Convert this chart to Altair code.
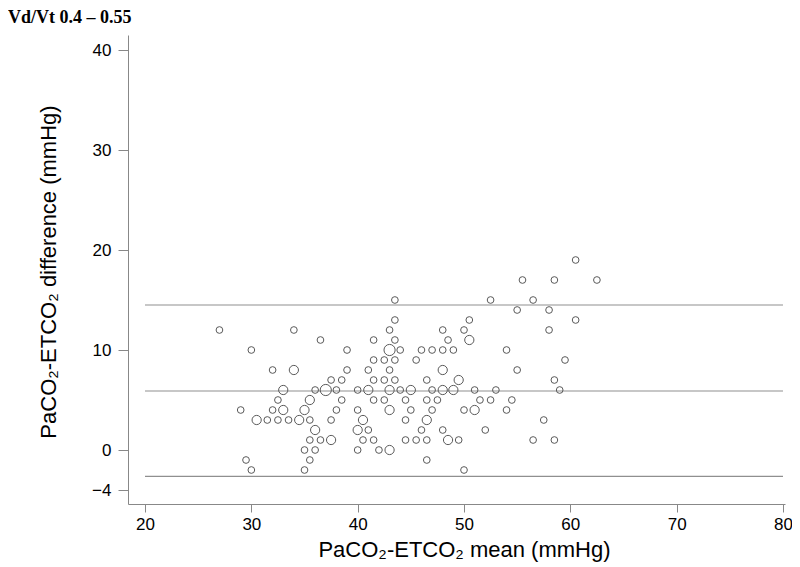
import altair as alt
import pandas as pd

# Bland-Altman data: mean (x), difference (y), number of coincident observations (w)
mean_vals = [27, 34, 30, 32, 34, 33, 32.5, 29, 32, 33, 30.5, 31.5, 32.5, 33.5, 34.5, 35, 29.5, 30, 35, 35,
             43.5, 43.5, 50.5, 43, 48, 50, 36.5, 41.5, 43.5, 48.5, 50.5,
             39, 43, 44, 46, 47, 48, 49,
             41.5, 42.5, 43.5, 45.5,
             39, 41, 43, 48,
             37.5, 38.5, 41.5, 42.5, 43.5, 46.5, 49.5,
             36, 37, 38, 40, 41, 43, 44, 45, 47, 48, 49, 51,
             35.5, 38.5, 41.5, 42.5, 44.5, 46.5, 47.5, 51.5,
             38, 40, 43, 45, 47, 50, 51,
             35.5, 37.5, 40.5, 44.5, 46.5,
             36, 40, 41, 46, 48,
             35.5, 36.5, 37.5, 40.5, 41.5, 44.5, 45.5, 46.5, 48.5, 49.5,
             36, 40, 42, 43,
             35.5, 46.5,
             50,
             60.5, 55.5, 58.5, 62.5, 52.5, 56.5, 55, 58, 60.5, 58, 54, 59.5, 55, 58.5, 59, 53,
             52.5, 54.5, 54, 57.5, 52, 56.5, 58.5]
diff_vals = [12, 12, 10, 8, 8, 6, 5, 4, 4, 4, 3, 3, 3, 3, 3, 4, -1, -2, 0, -2,
             15, 13, 13, 12, 12, 12, 11, 11, 11, 11, 11,
             10, 10, 10, 10, 10, 10, 10,
             9, 9, 9, 9,
             8, 8, 8, 8,
             7, 7, 7, 7, 7, 7, 7,
             6, 6, 6, 6, 6, 6, 6, 6, 6, 6, 6, 6,
             5, 5, 5, 5, 5, 5, 5, 5,
             4, 4, 4, 4, 4, 4, 4,
             3, 3, 3, 3, 3,
             2, 2, 2, 2, 2,
             1, 1, 1, 1, 1, 1, 1, 1, 1, 1,
             0, 0, 0, 0,
             -1, -1,
             -2,
             19, 17, 17, 17, 15, 15, 14, 14, 13, 12, 10, 9, 8, 7, 6, 6,
             5, 5, 4, 3, 2, 1, 1]
weights = [1, 1, 1, 1, 2, 2, 1, 1, 1, 2, 2, 1, 1, 1, 2, 2, 1, 1, 1, 1,
           1, 1, 1, 1, 1, 1, 1, 1, 1, 1, 2,
           1, 3, 1, 1, 1, 1, 1,
           1, 1, 1, 1,
           1, 1, 1, 2,
           1, 1, 1, 1, 1, 1, 2,
           1, 3, 1, 1, 2, 2, 1, 2, 1, 2, 2, 1,
           2, 1, 1, 1, 1, 1, 1, 1,
           1, 1, 2, 1, 1, 1, 2,
           1, 1, 2, 1, 2,
           2, 2, 1, 1, 1,
           1, 1, 2, 1, 1, 1, 1, 1, 2, 1,
           1, 1, 1, 2,
           1, 1,
           1,
           1, 1, 1, 1, 1, 1, 1, 1, 1, 1, 1, 1, 1, 1, 1, 1,
           1, 1, 1, 1, 1, 1, 1]

# Limits of agreement and mean difference
ref_lines = [14.5, 5.9, -2.63]
ref_x_start = 20
ref_x_end = 80

x_ticks = [20, 30, 40, 50, 60, 70, 80]
y_ticks = [-4, 0, 10, 20, 30, 40]

title_text = "Vd/Vt 0.4 \u2013 0.55"
x_title = "PaCO\u2082-ETCO\u2082 mean (mmHg)"
y_title = "PaCO\u2082-ETCO\u2082 difference (mmHg)"

pts = pd.DataFrame({"m": mean_vals, "d": diff_vals, "w": weights})
lines = pd.DataFrame({"y": ref_lines, "x1": [ref_x_start] * 3, "x2": [ref_x_end] * 3})

FONT = "Liberation Sans"
W, H = 657, 469

xscale = alt.Scale(domain=[18.40, 80.19], nice=False, zero=False)
yscale = alt.Scale(domain=[-5.4, 41.5], nice=False, zero=False)

xaxis = alt.Axis(values=x_ticks, title=x_title, grid=False, titleX=336, titleY=45,
                 titleBaseline="middle", titleAlign="center", tickSize=8, labelPadding=4)
yaxis = alt.Axis(values=y_ticks, title=y_title, grid=False, titleX=-80, titleY=H / 2 + 2,
                 titleBaseline="middle", titleAlign="center", titleAngle=-90,
                 tickSize=10, labelPadding=7)

rules = alt.Chart(lines).mark_rule(color="#8f8f8f", strokeWidth=1.2).encode(
    x=alt.X("x1:Q", scale=xscale, axis=xaxis),
    x2="x2:Q",
    y=alt.Y("y:Q", scale=yscale, axis=yaxis),
)

points = alt.Chart(pts).mark_point(shape="circle", filled=False, color="#5a5a5a",
                                   strokeWidth=1, opacity=1).encode(
    x=alt.X("m:Q", scale=xscale, axis=xaxis),
    y=alt.Y("d:Q", scale=yscale, axis=yaxis),
    size=alt.Size("w:Q", scale=alt.Scale(domain=[1, 3], range=[45, 125]), legend=None),
)

title = alt.Chart(pd.DataFrame({"t": [title_text]})).mark_text(
    align="left", baseline="middle", font="Liberation Serif", fontSize=18,
    fontWeight="bold", color="black"
).encode(x=alt.value(-120), y=alt.value(-17), text="t:N")

chart = alt.layer(rules, points, title).properties(
    width=W, height=H,
    autosize=alt.AutoSizeParams(type="none"),
    padding={"left": 120, "top": 27, "right": 7, "bottom": 62},
).configure_view(stroke=None).configure_axis(
    domainColor="#888888", tickColor="#888888", domainWidth=1, tickWidth=1,
    labelFont=FONT, labelFontSize=17, labelColor="black",
    titleFont=FONT, titleFontSize=22, titleFontWeight="normal", titleColor="black",
)

chart.save("out.html", embed_options={"renderer": "svg", "actions": False})
